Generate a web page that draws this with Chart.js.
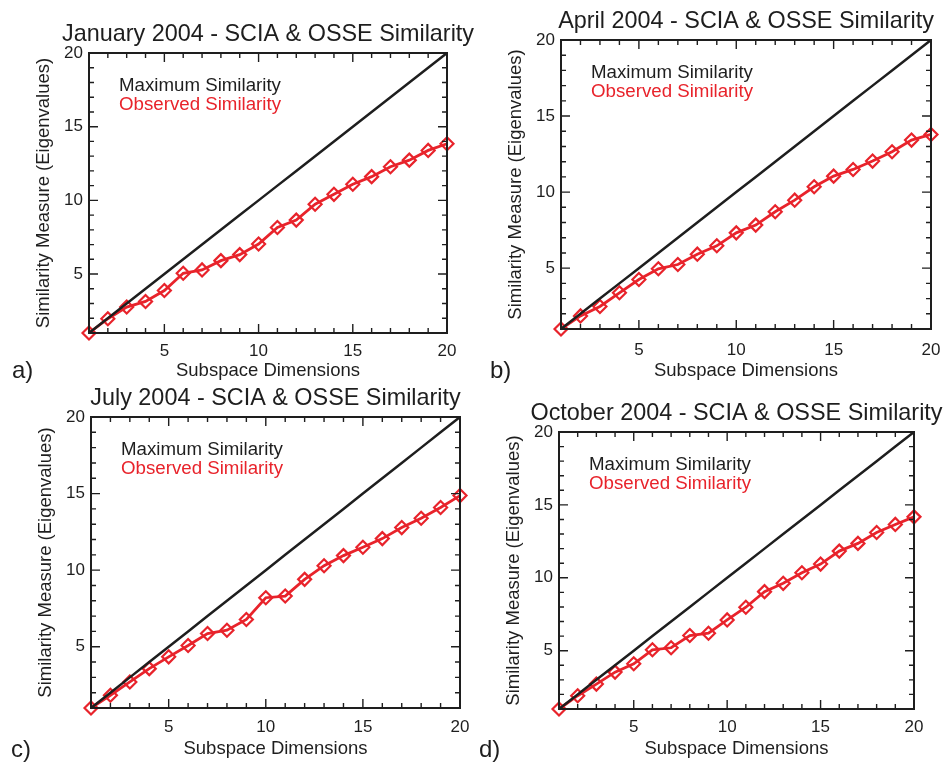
<!DOCTYPE html>
<html>
<head>
<meta charset="utf-8">
<script src="https://cdn.jsdelivr.net/npm/chart.js@4"></script>
<style>
  html, body { margin: 0; padding: 0; background: #ffffff; }
  #wrap { position: relative; width: 944px; height: 763px; overflow: hidden; background: #ffffff; }
  #wrap canvas { position: absolute; left: 0; top: 0; }
</style>
</head>
<body>
<div id="wrap">
  <canvas id="c0" width="944" height="763"></canvas>
  <canvas id="c1" width="944" height="763"></canvas>
  <canvas id="c2" width="944" height="763"></canvas>
  <canvas id="c3" width="944" height="763"></canvas>
</div>
<script>
// Subspace dimension (x) and the ideal one-to-one similarity line
const dimensions    = [1, 2, 3, 4, 5, 6, 7, 8, 9, 10, 11, 12, 13, 14, 15, 16, 17, 18, 19, 20];
const maxSimilarity = [1, 2, 3, 4, 5, 6, 7, 8, 9, 10, 11, 12, 13, 14, 15, 16, 17, 18, 19, 20];

// Observed SCIA / OSSE similarity (sum of eigenvalues) per month
const observedJan = [1.00, 1.97, 2.76, 3.14, 3.88, 5.05, 5.28, 5.91, 6.32, 7.04, 8.16, 8.66, 9.74, 10.41, 11.09, 11.61, 12.28, 12.73, 13.39, 13.84];
const observedApr = [1.00, 1.86, 2.48, 3.38, 4.25, 4.96, 5.24, 5.92, 6.47, 7.32, 7.83, 8.71, 9.47, 10.35, 11.05, 11.49, 12.04, 12.65, 13.42, 13.79];
const observedJul = [1.00, 1.83, 2.70, 3.57, 4.34, 5.08, 5.86, 6.08, 6.78, 8.20, 8.31, 9.40, 10.29, 10.95, 11.50, 12.06, 12.78, 13.39, 14.09, 14.87];
const observedOct = [1.00, 1.91, 2.71, 3.53, 4.10, 5.06, 5.20, 6.04, 6.20, 7.11, 7.98, 9.05, 9.62, 10.35, 10.94, 11.83, 12.36, 13.11, 13.66, 14.18];

// Labelled ticks on both axes
const xTickLabels = [5, 10, 15, 20];
const yTickLabels = [5, 10, 15, 20];

const panelTitles  = ['January 2004 - SCIA & OSSE Similarity', 'April 2004 - SCIA & OSSE Similarity',
                      'July 2004 - SCIA & OSSE Similarity', 'October 2004 - SCIA & OSSE Similarity'];
const panelLetters = ['a)', 'b)', 'c)', 'd)'];
const panelSeries  = [observedJan, observedApr, observedJul, observedOct];
const legendNames  = ['Maximum Similarity', 'Observed Similarity'];

// Page layout of each panel (plot box edges, letter position, label offsets)
const layoutBoxes = [
  { l: 89,  t: 53,  r: 447, b: 333, letter: [12, 378],  xTitleOff: 38, xTickOff: 18 },
  { l: 561, t: 40,  r: 931, b: 329, letter: [490, 378], xTitleOff: 42, xTickOff: 21 },
  { l: 91,  t: 417, r: 460, b: 708, letter: [11, 757],  xTitleOff: 41, xTickOff: 19 },
  { l: 559, t: 432, r: 914, b: 709, letter: [479, 757], xTitleOff: 40, xTickOff: 18 }
];

const FONT = '"Liberation Sans", Arial, Helvetica, sans-serif';
const INK = '#1e1e1e';
const RED = '#e8232b';

const W = 944, H = 763;
const Y_AXIS_W = 58;
const TICK_FONT = 17, AXIS_TITLE_FONT = 18.5;

// Frame, inward minor/major ticks, titles and in-plot legend
const panelDecor = {
  id: 'panelDecor',
  afterDatasetsDraw(chart, args, opts) {
    const { ctx, chartArea: a, scales: { x, y } } = chart;
    ctx.save();
    ctx.strokeStyle = INK;
    ctx.lineWidth = 1.4;
    ctx.beginPath();
    for (let v = 1; v <= 20; v++) {
      const len = v % 5 === 0 ? 9 : 5;
      const px = x.getPixelForValue(v);
      ctx.moveTo(px, a.bottom); ctx.lineTo(px, a.bottom - len);
      ctx.moveTo(px, a.top);    ctx.lineTo(px, a.top + len);
      const py = y.getPixelForValue(v);
      ctx.moveTo(a.left, py);   ctx.lineTo(a.left + len, py);
      ctx.moveTo(a.right, py);  ctx.lineTo(a.right - len, py);
    }
    ctx.stroke();
    ctx.lineWidth = 2;
    ctx.strokeRect(a.left, a.top, a.right - a.left, a.bottom - a.top);

    // chart title, centred over the plot box
    ctx.fillStyle = INK;
    ctx.font = '23.4px ' + FONT;
    ctx.textAlign = 'center';
    ctx.textBaseline = 'alphabetic';
    ctx.fillText(opts.title, (a.left + a.right) / 2, a.top - 12);

    // panel letter
    ctx.font = '24px ' + FONT;
    ctx.textAlign = 'left';
    ctx.fillText(opts.letter, opts.letterPos[0], opts.letterPos[1]);

    // legend written inside the plot
    ctx.font = '18.7px ' + FONT;
    ctx.fillStyle = INK;
    ctx.fillText(chart.data.datasets[0].label, a.left + 30, a.top + 37.5);
    ctx.fillStyle = RED;
    ctx.fillText(chart.data.datasets[1].label, a.left + 30, a.top + 56.5);
    ctx.restore();
  }
};

panelSeries.forEach((series, i) => {
  const box = layoutBoxes[i];
  const xAxisH = box.xTitleOff + AXIS_TITLE_FONT * 0.6 + 2;
  new Chart(document.getElementById('c' + i), {
    type: 'line',
    data: {
      datasets: [
        {
          label: legendNames[0],
          data: dimensions.map((d, k) => ({ x: d, y: maxSimilarity[k] })),
          borderColor: INK,
          borderWidth: 2.5,
          pointRadius: 0,
          fill: false,
          tension: 0
        },
        {
          label: legendNames[1],
          data: dimensions.map((d, k) => ({ x: d, y: series[k] })),
          borderColor: RED,
          borderWidth: 2.8,
          pointStyle: 'rectRot',
          pointRadius: 6.5,
          pointBorderWidth: 2.2,
          pointBorderColor: RED,
          pointBackgroundColor: 'rgba(255,255,255,0)',
          fill: false,
          tension: 0
        }
      ]
    },
    options: {
      responsive: false,
      animation: false,
      devicePixelRatio: 1,
      clip: false,
      layout: {
        padding: { left: box.l - Y_AXIS_W, top: box.t, right: W - box.r, bottom: H - box.b - xAxisH }
      },
      plugins: {
        legend: { display: false },
        tooltip: { enabled: false },
        title: { display: false },
        panelDecor: { title: panelTitles[i], letter: panelLetters[i], letterPos: box.letter }
      },
      scales: {
        x: {
          type: 'linear',
          min: 1, max: 20,
          grid: { display: false, drawTicks: false },
          border: { display: false },
          afterBuildTicks: s => { s.ticks = xTickLabels.map(v => ({ value: v })); },
          afterFit: s => { s.height = xAxisH; s.paddingLeft = 0; s.paddingRight = 0; },
          ticks: {
            autoSkip: false, maxRotation: 0, minRotation: 0,
            padding: box.xTickOff - TICK_FONT * 0.6,
            color: INK,
            font: { family: FONT, size: TICK_FONT }
          },
          title: {
            display: true, text: 'Subspace Dimensions', color: INK,
            padding: { top: 0, bottom: 2 },
            font: { family: FONT, size: AXIS_TITLE_FONT }
          }
        },
        y: {
          type: 'linear',
          min: 1, max: 20,
          grid: { display: false, drawTicks: false },
          border: { display: false },
          afterBuildTicks: s => { s.ticks = yTickLabels.map(v => ({ value: v })); },
          afterFit: s => { s.width = Y_AXIS_W; s.paddingTop = 0; s.paddingBottom = 0; },
          ticks: {
            autoSkip: false,
            padding: 6,
            color: INK,
            font: { family: FONT, size: TICK_FONT }
          },
          title: {
            display: true, text: 'Similarity Measure (Eigenvalues)', color: INK,
            padding: { top: 2, bottom: 0 },
            font: { family: FONT, size: AXIS_TITLE_FONT }
          }
        }
      }
    },
    plugins: [panelDecor]
  });
});
</script>
</body>
</html>
